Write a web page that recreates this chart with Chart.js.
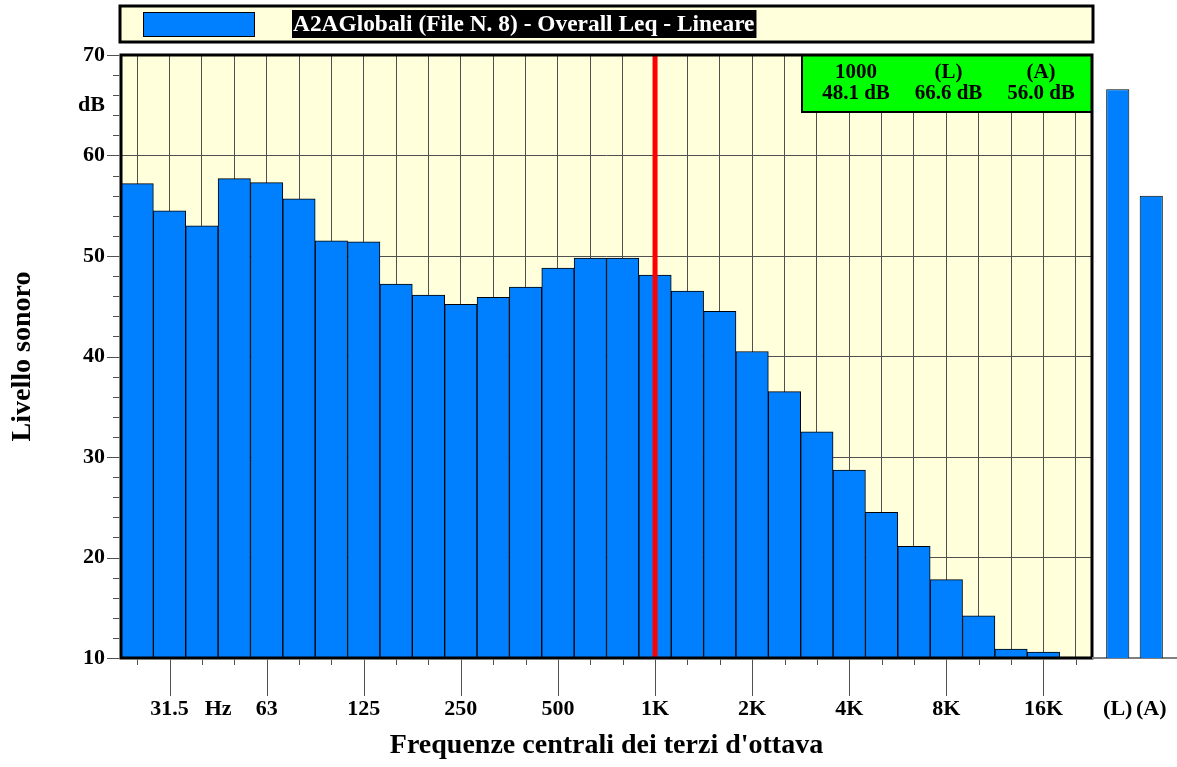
<!DOCTYPE html>
<html>
<head>
<meta charset="utf-8">
<script src="https://cdn.jsdelivr.net/npm/chart.js@4.4.0/dist/chart.umd.min.js"></script>
<style>
  body { margin: 0; background: #fff; }
  #wrap { position: relative; width: 1177px; height: 767px; }
  canvas { position: absolute; top: 0; }
</style>
</head>
<body>
<div id="wrap">
  <canvas id="bandChart" width="1177" height="767" style="left:0"></canvas>
  <canvas id="totalChart" width="85" height="767" style="left:1092px"></canvas>
</div>
<script>
// third-octave bands (Hz) and measured Leq (dB)
const bands = ['25','31.5','40','50','63','80','100','125','160','200','250','315','400','500','630','800','1000','1250','1600','2000','2500','3150','4000','5000','6300','8000','10000','12500','16000','20000'];
const bandLevels = [57.2,54.5,53.0,57.7,57.3,55.7,51.5,51.4,47.2,46.1,45.2,45.9,46.9,48.8,49.8,49.8,48.1,46.5,44.5,40.5,36.5,32.5,28.7,24.5,21.1,17.8,14.2,10.9,10.6,10.1];
const tickLabels = ['','31.5','','','63','','','125','','','250','','','500','','','1K','','','2K','','','4K','','','8K','','','16K',''];
const totalLabels = ['(L)','(A)'];
const totalLevels = [66.6, 56.0];
const yTicks = [10,20,30,40,50,60,70];
const unitLabel = 'dB';
const unitValue = 65;
const cursorBand = '1000';
const seriesName = 'A2AGlobali (File N. 8) - Overall Leq - Lineare';

const fontFam = "'Liberation Serif', 'Times New Roman', serif";
const plotBg = '#FFFFDC';
const barBlue = '#0080FF';
const gridCol = '#505050';
const tickFont = {family: fontFam, size: 22, weight: 'bold'};
const titleFont = {family: fontFam, size: 28, weight: 'bold'};

function line(ctx, x1, y1, x2, y2) {
    ctx.beginPath();
    ctx.moveTo(x1, y1);
    ctx.lineTo(x2, y2);
    ctx.stroke();
}

const framePlugin = {
    id: 'frame',
    beforeDraw(chart) {
        const {ctx, chartArea: a} = chart;
        ctx.save();
        ctx.fillStyle = plotBg;
        ctx.fillRect(a.left, a.top, a.right - a.left, a.bottom - a.top);
        ctx.restore();
    },
    afterDatasetsDraw(chart) {
        const {ctx, chartArea: a, scales: {x, y}} = chart;
        ctx.save();

        // cursor on 1 kHz
        const cx = x.getPixelForValue(bands.indexOf(cursorBand));
        ctx.strokeStyle = '#FF0000';
        ctx.lineWidth = 5;
        line(ctx, cx, a.top, cx, a.bottom);

        // green info box
        const bw = 290, bh = 57;
        const bx = a.right - bw, by = a.top;
        ctx.fillStyle = '#00FF00';
        ctx.fillRect(bx, by, bw, bh);
        ctx.strokeStyle = '#000';
        ctx.lineWidth = 2;
        ctx.strokeRect(bx, by, bw, bh);
        const heads = [cursorBand, totalLabels[0], totalLabels[1]];
        const vals = [bandLevels[bands.indexOf(cursorBand)], totalLevels[0], totalLevels[1]];
        ctx.fillStyle = '#000';
        ctx.font = `bold 21px ${fontFam}`;
        ctx.textAlign = 'center';
        ctx.textBaseline = 'middle';
        heads.forEach((h, i) => {
            const tx = bx + 54 + i * 92.5;
            ctx.fillText(h, tx, by + 18);
            ctx.fillText(vals[i].toFixed(1) + ' dB', tx, by + 39);
        });

        // frame
        ctx.strokeStyle = '#000';
        ctx.lineWidth = 3;
        ctx.strokeRect(a.left, a.top, a.right - a.left, a.bottom - a.top);

        // x ticks, long ones under the labelled octaves
        ctx.strokeStyle = gridCol;
        ctx.lineWidth = 1;
        bands.forEach((b, i) => {
            const px = Math.round(x.getPixelForValue(i)) + 0.5;
            line(ctx, px, a.bottom + 1.5, px, a.bottom + (tickLabels[i] ? 38 : 7));
        });
        // y ticks every 2 dB
        for (let v = 10; v <= 70; v += 2) {
            const py = Math.round(y.getPixelForValue(v)) + 0.5;
            line(ctx, a.left - (v % 10 === 0 ? 14 : 8), py, a.left - 1.5, py);
        }

        ctx.font = `bold 22px ${fontFam}`;
        ctx.fillText('Hz', (x.getPixelForValue(2) + x.getPixelForValue(3)) / 2, a.bottom + 51);
        ctx.restore();
    },
    afterDraw(chart) {
        const {ctx} = chart;
        const ds = chart.data.datasets[0];
        ctx.save();
        // legend strip on top
        ctx.fillStyle = plotBg;
        ctx.fillRect(120, 6, 973, 36);
        ctx.strokeStyle = '#000';
        ctx.lineWidth = 3;
        ctx.strokeRect(120, 6, 973, 36);
        ctx.fillStyle = ds.backgroundColor;
        ctx.fillRect(143, 12, 112, 25);
        ctx.lineWidth = 1;
        ctx.strokeRect(143.5, 12.5, 111, 24);
        ctx.font = `bold 23.4px ${fontFam}`;
        const tw = ctx.measureText(ds.label).width;
        ctx.fillStyle = '#000';
        ctx.fillRect(292, 10, tw + 3, 28);
        ctx.fillStyle = '#fff';
        ctx.textAlign = 'left';
        ctx.textBaseline = 'middle';
        ctx.fillText(ds.label, 293, 25);
        ctx.restore();
    }
};

new Chart(document.getElementById('bandChart'), {
    type: 'bar',
    data: {
        labels: bands,
        datasets: [{
            label: seriesName,
            data: bandLevels,
            backgroundColor: barBlue,
            borderColor: '#000',
            borderWidth: 1,
            barPercentage: 1,
            categoryPercentage: 1
        }]
    },
    options: {
        responsive: false,
        animation: false,
        layout: {padding: {top: 55, right: 85, left: 0, bottom: 0}},
        plugins: {legend: {display: false}, tooltip: {enabled: false}},
        scales: {
            x: {
                grid: {offset: false, color: gridCol, drawTicks: false},
                border: {display: false},
                ticks: {
                    autoSkip: false, maxRotation: 0, padding: 38, color: '#000', font: tickFont,
                    callback: (v, i) => tickLabels[i]
                },
                title: {display: true, text: "Frequenze centrali dei terzi d'ottava", color: '#000', font: titleFont, padding: {top: 0, bottom: 4}},
                afterFit(s) { s.height = 109; }
            },
            y: {
                min: 10,
                max: 70,
                afterBuildTicks(s) {
                    s.ticks = [...yTicks, unitValue].sort((p, q) => p - q).map(v => ({value: v}));
                },
                grid: {
                    drawTicks: false,
                    color: c => (c.tick && c.tick.value === unitValue) ? 'rgba(0,0,0,0)' : gridCol
                },
                border: {display: false},
                ticks: {
                    padding: 16, color: '#000', font: tickFont,
                    callback: v => v === unitValue ? unitLabel : v
                },
                title: {display: true, text: 'Livello sonoro', color: '#000', font: titleFont, padding: {top: 6, bottom: 0}},
                afterFit(s) { s.width = 121; }
            }
        }
    },
    plugins: [framePlugin]
});

const baselinePlugin = {
    id: 'baseline',
    beforeDatasetsDraw(chart) {
        const {ctx, chartArea: a} = chart;
        ctx.save();
        ctx.strokeStyle = '#808080';
        ctx.lineWidth = 2;
        line(ctx, 0, a.bottom, chart.width, a.bottom);
        ctx.restore();
    }
};

new Chart(document.getElementById('totalChart'), {
    type: 'bar',
    data: {
        labels: totalLabels,
        datasets: [{
            data: totalLevels,
            backgroundColor: barBlue,
            borderColor: '#000',
            borderWidth: 1,
            barPercentage: 0.69,
            categoryPercentage: 1
        }]
    },
    options: {
        responsive: false,
        animation: false,
        layout: {padding: {top: 55, left: 9, right: 9, bottom: 0}},
        plugins: {legend: {display: false}, tooltip: {enabled: false}},
        scales: {
            x: {
                // invisible tick marks push the labels down without widening the side padding
                grid: {display: false, drawTicks: true, tickLength: 38},
                border: {display: false},
                ticks: {autoSkip: false, maxRotation: 0, padding: 0, color: '#000', font: tickFont},
                afterFit(s) { s.height = 109; }
            },
            y: {display: false, min: 10, max: 70}
        }
    },
    plugins: [baselinePlugin]
});
</script>
</body>
</html>
